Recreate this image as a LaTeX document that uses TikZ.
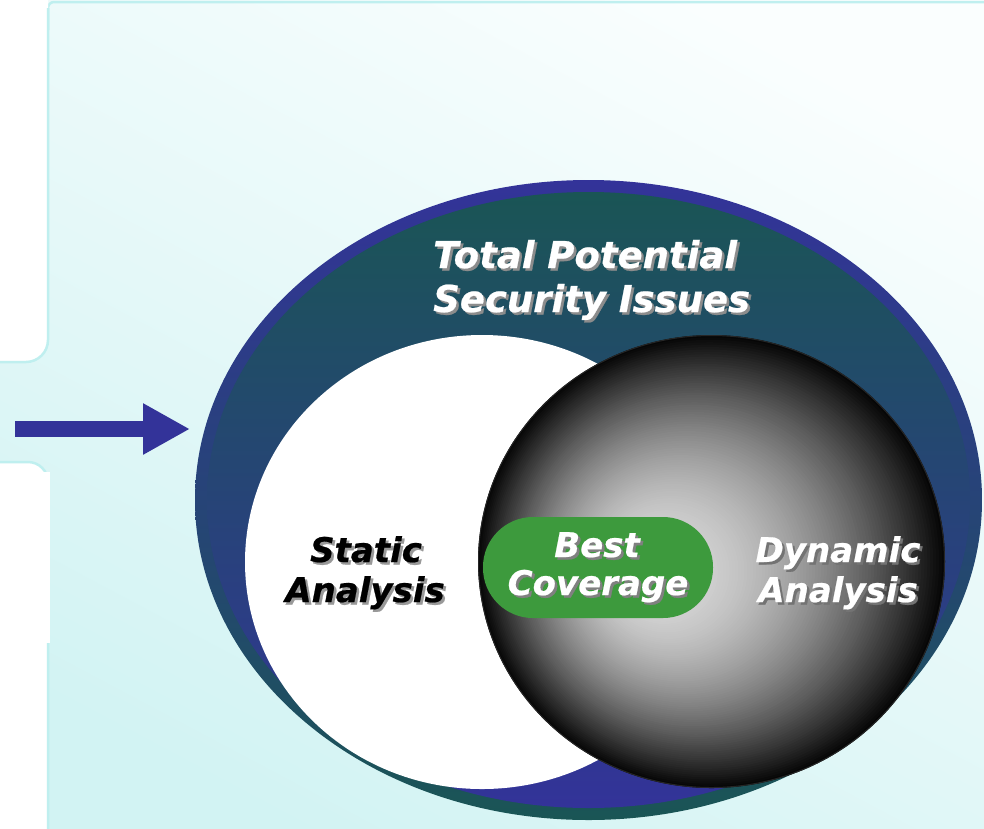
\documentclass[tikz,border=0pt]{standalone}
\usepackage{fontspec}
\newfontfamily\labelfont{DejaVu Sans}[BoldItalicFeatures={FakeBold=0.6}]
\usetikzlibrary{arrows.meta}

\definecolor{panelhi}{HTML}{FAFEFE}
\definecolor{panello}{HTML}{D2F3F3}
\definecolor{panelrule}{HTML}{BFEFEF}
\definecolor{navy}{HTML}{333399}
\definecolor{deepteal}{HTML}{1A5555}
\definecolor{pillgreen}{HTML}{3D9A3D}

% text with a drop shadow set behind it: #1 shadow colour, #2 text
\newcommand\shadowed[2]{\rlap{\kern2.5pt\raisebox{-2.5pt}{\textcolor{#1}{#2}}}#2}

\begin{document}
\begin{tikzpicture}[x=1pt, y=-1pt,
  lbl/.style={font=\labelfont\bfseries\itshape\fontsize{34}{40}\selectfont, inner sep=0pt},
  biglbl/.style={lbl, font=\labelfont\bfseries\itshape\fontsize{37}{44}\selectfont},
  rule/.style={draw=panelrule, line width=2.5pt}]
\useasboundingbox (0,0) rectangle (984,828);

% background panel
\shade[top color=panelhi, bottom color=panello, shading angle=-28] (-20,-20) rectangle (1004,848);
\draw[rule] (48,30) -- (48,8) arc[start angle=180, end angle=270, radius=6] -- (990,2);

% white boxes on the left
\fill[white] (-5,-5) -- (48,-5) -- (48,340) arc[start angle=0, end angle=90, radius=22] -- (-5,362) -- cycle;
\draw[rule] (48,8) -- (48,340) arc[start angle=0, end angle=90, radius=22] -- (-5,362);
\fill[white] (-5,482) rectangle (48,833);
\fill[white] (-5,482) -- (-5,462) -- (28,462) arc[start angle=-90, end angle=0, radius=20] -- cycle;
\draw[rule] (-5,462) -- (28,462) arc[start angle=-90, end angle=0, radius=20] -- (48,833);
\fill[white] (-5,472) rectangle (50,643);

% arrow
\coordinate (arrowtail) at (15,429);
\coordinate (arrowtip) at (190,429);
\draw[navy, line width=16pt, -{Triangle[length=47pt, width=48pt]}] (arrowtail) -- (arrowtip);

% outer ellipse: bevelled ring and shaded interior
\coordinate (total) at (588.5,500);
\shade[top color=navy, bottom color=deepteal] (total) ellipse [x radius=393.5, y radius=320];
\shade[top color=deepteal, bottom color=navy] (total) ellipse [x radius=381.5, y radius=308];

% static analysis disc
\coordinate (static) at (482,562);
\fill[white] (static) ellipse [x radius=237, y radius=227];

% dynamic analysis sphere, shaded from an off-centre highlight
\coordinate (dynamic) at (711.5,561.5);
\foreach \i in {100,99,...,1} {
  \pgfmathsetmacro\t{\i/100}
  \pgfmathsetmacro\g{(220-214*\t^1.8)/255}
  \definecolor{sphshade}{gray}{\g}
  \fill[sphshade] ({650+61.5*\t},{575-13.5*\t}) ellipse [x radius={233.5*\t}, y radius={226.5*\t}];
}
\draw[black!85, line width=1pt] (dynamic) ellipse [x radius=233, y radius=226];

% overlap pill
\node[fill=pillgreen, rounded corners=50pt, minimum width=230pt, minimum height=101pt, inner sep=0pt] (bestpill) at (598,567.5) {};

% labels
\node[biglbl, anchor=base west, text=white] (total1) at (433,268) {\shadowed{black!45}{Total Potential}};
\node[biglbl, anchor=base west, text=white] (total2) at (433,312) {\shadowed{black!45}{Security Issues}};
\node[lbl, anchor=base, text=black] (static1) at (366,562) {\shadowed{black!40}{Static}};
\node[lbl, anchor=base, text=black] (static2) at (365,602) {\shadowed{black!40}{Analysis}};
\node[lbl, anchor=base, text=white] (best1) at (597,557) {\shadowed{black!50}{Best}};
\node[lbl, anchor=base, text=white] (best2) at (598,595) {\shadowed{black!50}{Coverage}};
\node[lbl, anchor=base, text=white] (dyn1) at (838,562) {\shadowed{black!55}{Dynamic}};
\node[lbl, anchor=base, text=white] (dyn2) at (838,602) {\shadowed{black!55}{Analysis}};
\end{tikzpicture}
\end{document}
